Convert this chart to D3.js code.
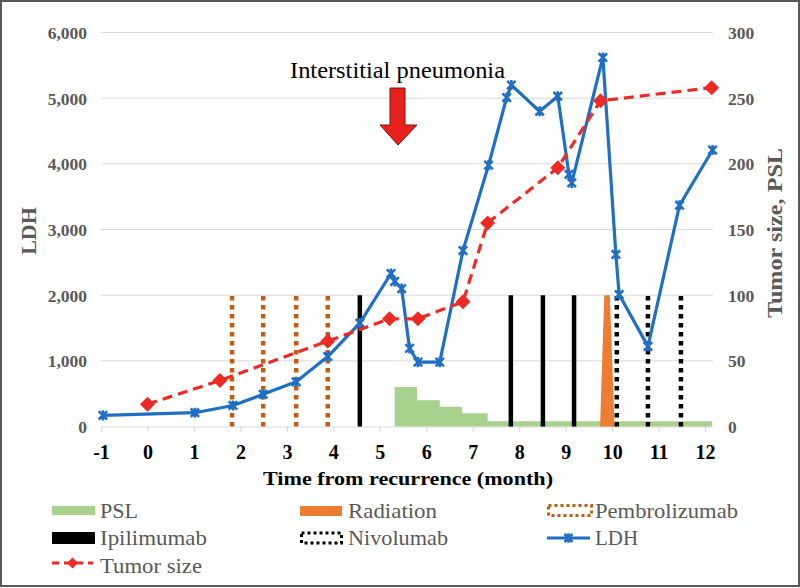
<!DOCTYPE html>
<html><head><meta charset="utf-8">
<script src="https://cdn.jsdelivr.net/npm/d3@7"></script>
<style>
body{margin:0;background:#fff}
svg{display:block}
</style>
</head><body>
<svg id="c" width="800" height="588"></svg>
<script>
// ---------- data ----------
const xTicks = [-1,0,1,2,3,4,5,6,7,8,9,10,11,12];
const ldhTicks = [0,1000,2000,3000,4000,5000,6000];
const rightTicks = [0,50,100,150,200,250,300];

const ldhMonths = [-0.96,1.02,1.84,2.49,3.2,3.88,4.57,5.24,5.32,5.47,5.64,5.82,6.29,6.79,7.34,7.73,7.83,8.44,8.83,9.07,9.13,9.8,10.08,10.15,10.77,11.45,12.16];
const ldhValues = [170,210,320,490,680,1065,1575,2330,2210,2100,1190,980,980,2680,3980,5010,5200,4800,5030,3840,3710,5620,2620,2010,1220,3370,4210];

const tumorMonths = [0,1.56,3.88,5.21,5.82,6.79,7.32,8.83,9.75,12.14];
const tumorValues = [17,35,65,82,82,95,155,197,248,258];

const pslMonths = [5.32,5.8,6.29,6.77,7.32,12.15];
const pslValues = [30,20,15,10,4,4];

const radiationMonths = [9.74,9.83,9.95,10.05];
const radiationValues = [0,100,100,0];

const pembrolizumabMonths = [1.82,2.49,3.2,3.88];
const ipilimumabMonths = [4.57,7.82,8.51,9.18];
const nivolumabMonths = [10.1,10.77,11.48];
const treatmentLevel = 100;

const legendItems = ["PSL","Radiation","Pembrolizumab","Ipilimumab","Nivolumab","LDH","Tumor size"];

// ---------- layout ----------
const FONT = "'Liberation Serif', 'Times New Roman', serif";
const svg = d3.select("#c");
const L = 101, R = 713, T = 32.5, B = 426.5;
const x = d3.scaleLinear().domain([-1, 12.17]).range([L, R]);
const yL = d3.scaleLinear().domain([0, 6000]).range([B, T]);
const yR = d3.scaleLinear().domain([0, 300]).range([B, T]);

const C = {
  grid:"#d9d9d9", axisText:"#595959", blue:"#1f6fc4", red:"#ee2a24",
  green:"#a9d18e", orange:"#ed7d31", pembro:"#c55a11", black:"#000"
};

// frame
svg.append("rect").attr("x",1).attr("y",1).attr("width",798).attr("height",585)
  .attr("fill","#fff").attr("stroke","#5a5a5a").attr("stroke-width",2);

// gridlines
svg.append("g").selectAll("line").data(ldhTicks.slice(1)).join("line")
  .attr("x1",L).attr("x2",R).attr("y1",d=>yL(d)).attr("y2",d=>yL(d))
  .attr("stroke",C.grid).attr("stroke-width",1);

// x axis
const xa = svg.append("g").attr("transform",`translate(0,${B})`)
  .call(d3.axisBottom(x).tickValues(xTicks).tickSize(5).tickPadding(13).tickSizeOuter(0).tickFormat(d=>String(d)));
xa.select(".domain").attr("stroke",C.grid).attr("stroke-width",1.2);
xa.selectAll(".tick line").attr("stroke",C.grid).attr("stroke-width",1.2);
xa.selectAll(".tick text").style("font-family",FONT).attr("font-size",20)
  .attr("font-weight","bold").attr("fill","#000");

// left axis
const la = svg.append("g").attr("transform",`translate(${L},0)`)
  .call(d3.axisLeft(yL).tickValues(ldhTicks).tickSize(0).tickPadding(14).tickFormat(d3.format(",")));
la.select(".domain").remove();
la.selectAll(".tick text").style("font-family",FONT).attr("font-size",17.5)
  .attr("font-weight","bold").attr("fill",C.axisText).attr("dy","0.35em");

// right axis
const ra = svg.append("g").attr("transform",`translate(${R},0)`)
  .call(d3.axisRight(yR).tickValues(rightTicks).tickSize(0).tickPadding(15));
ra.select(".domain").remove();
ra.selectAll(".tick text").style("font-family",FONT).attr("font-size",17.5)
  .attr("font-weight","bold").attr("fill",C.axisText).attr("dy","0.35em");

// PSL step area
const pslPts = pslValues.map((v,i)=>[pslMonths[i], v]);
svg.append("path").datum(pslPts)
  .attr("d", d3.area().curve(d3.curveStepAfter).x(d=>x(d[0])).y0(yR(0)).y1(d=>yR(d[1])))
  .attr("fill",C.green);

// radiation
const radPts = radiationValues.map((v,i)=>[radiationMonths[i], v]);
svg.append("path").datum(radPts)
  .attr("d", d3.area().x(d=>x(d[0])).y0(yR(0)).y1(d=>yR(d[1])))
  .attr("fill",C.orange);

// treatment lines
function vlines(data, color, dash){
  svg.append("g").selectAll("line").data(data).join("line")
    .attr("x1",d=>x(d)).attr("x2",d=>x(d)).attr("y1",yR(0)).attr("y2",yR(treatmentLevel))
    .attr("stroke",color).attr("stroke-width",4.5)
    .attr("stroke-dasharray",dash);
}
vlines(pembrolizumabMonths, C.pembro, "4.5,4.5");
vlines(ipilimumabMonths, C.black, null);
vlines(nivolumabMonths, C.black, "4.5,4.5");

// LDH line
const ldhPts = ldhValues.map((v,i)=>[ldhMonths[i], v]);
svg.append("path").datum(ldhPts)
  .attr("d", d3.line().x(d=>x(d[0])).y(d=>yL(d[1])))
  .attr("fill","none").attr("stroke",C.blue).attr("stroke-width",3.2).attr("stroke-linejoin","round");
const starPath = s => `M${-s},${-s}L${s},${s}M${-s},${s}L${s},${-s}M0,${-s*1.2}L0,${s*1.2}`;
svg.append("g").selectAll("path").data(ldhPts).join("path")
  .attr("transform",d=>`translate(${x(d[0])},${yL(d[1])})`)
  .attr("d",starPath(4.2)).attr("stroke",C.blue).attr("stroke-width",2.6).attr("fill","none");

// Tumor size line
const tumPts = tumorValues.map((v,i)=>[tumorMonths[i], v]);
svg.append("path").datum(tumPts)
  .attr("d", d3.line().x(d=>x(d[0])).y(d=>yR(d[1])))
  .attr("fill","none").attr("stroke",C.red).attr("stroke-width",3.2).attr("stroke-dasharray","10,6");
const diamond = s => `M0,${-s}L${s},0L0,${s}L${-s},0Z`;
svg.append("g").selectAll("path").data(tumPts).join("path")
  .attr("transform",d=>`translate(${x(d[0])},${yR(d[1])})`)
  .attr("d",diamond(7.5)).attr("fill",C.red);

// annotation
svg.append("text").attr("x",290).attr("y",78).style("font-family",FONT).attr("font-size",24).attr("fill","#000")
  .attr("textLength",215).attr("lengthAdjust","spacingAndGlyphs").text("Interstitial pneumonia");
svg.append("path").attr("d","M390,88L405,88L405,125L417,125L398,145L380,125L390,125Z")
  .attr("fill","#e8211d").attr("stroke","#7a1414").attr("stroke-width",1);

// axis titles
svg.append("text").attr("x",408).attr("y",485).attr("text-anchor","middle").style("font-family",FONT)
  .attr("font-size",19.5).attr("font-weight","bold").attr("fill","#000")
  .attr("textLength",290).attr("lengthAdjust","spacingAndGlyphs").text("Time from recurrence (month)");
svg.append("text").attr("transform","translate(36,231) rotate(-90)").attr("text-anchor","middle").style("font-family",FONT)
  .attr("font-size",22).attr("font-weight","bold").attr("fill",C.axisText).text("LDH");
svg.append("text").attr("transform","translate(782,233) rotate(-90)").attr("text-anchor","middle").style("font-family",FONT)
  .attr("font-size",22).attr("font-weight","bold").attr("fill",C.axisText)
  .attr("textLength",170).attr("lengthAdjust","spacingAndGlyphs").text("Tumor size, PSL");

// legend
const legPos = {
  "PSL":[52,511,38], "Radiation":[300,511,89], "Pembrolizumab":[547,511,143],
  "Ipilimumab":[52,538,107], "Nivolumab":[300,538,100], "LDH":[547,538,43],
  "Tumor size":[52,566,102]
};
const lg = svg.append("g");
legendItems.forEach(name=>{
  const [lx,ly,tw] = legPos[name];
  const sw = 43;
  const g = lg.append("g");
  if(name==="PSL") g.append("rect").attr("x",lx).attr("y",ly-5).attr("width",sw).attr("height",9).attr("fill",C.green);
  if(name==="Radiation") g.append("rect").attr("x",lx).attr("y",ly-5).attr("width",sw-1).attr("height",10).attr("fill",C.orange);
  if(name==="Ipilimumab") g.append("rect").attr("x",lx+1).attr("y",ly-5).attr("width",sw-2).attr("height",10).attr("fill","#000").attr("stroke","#000").attr("stroke-width",2);
  if(name==="Nivolumab") g.append("rect").attr("x",lx+1.5).attr("y",ly-5).attr("width",sw-3).attr("height",10).attr("fill","none").attr("stroke","#000").attr("stroke-width",3).attr("stroke-dasharray","3,3");
  if(name==="Pembrolizumab") g.append("rect").attr("x",lx+1.5).attr("y",ly-5.5).attr("width",sw).attr("height",10).attr("fill","none").attr("stroke",C.pembro).attr("stroke-width",3).attr("stroke-dasharray","3,3");
  if(name==="LDH"){
    g.append("line").attr("x1",lx).attr("x2",lx+sw).attr("y1",ly).attr("y2",ly).attr("stroke",C.blue).attr("stroke-width",3.2);
    g.append("path").attr("transform",`translate(${lx+sw/2},${ly})`).attr("d",starPath(4)).attr("stroke",C.blue).attr("stroke-width",2.6).attr("fill","none");
  }
  if(name==="Tumor size"){
    g.append("line").attr("x1",lx).attr("x2",lx+sw-2).attr("y1",ly-3).attr("y2",ly-3).attr("stroke",C.red).attr("stroke-width",3.2).attr("stroke-dasharray","7,5");
    g.append("path").attr("transform",`translate(${lx+sw/2-1},${ly-3})`).attr("d",diamond(5.5)).attr("fill",C.red);
  }
  g.append("text").attr("x",lx+sw+5).attr("y",ly+6.5).style("font-family",FONT)
    .attr("font-size",21).attr("fill",C.axisText)
    .attr("textLength",tw).attr("lengthAdjust","spacingAndGlyphs").text(name);
});
</script>
</body></html>
